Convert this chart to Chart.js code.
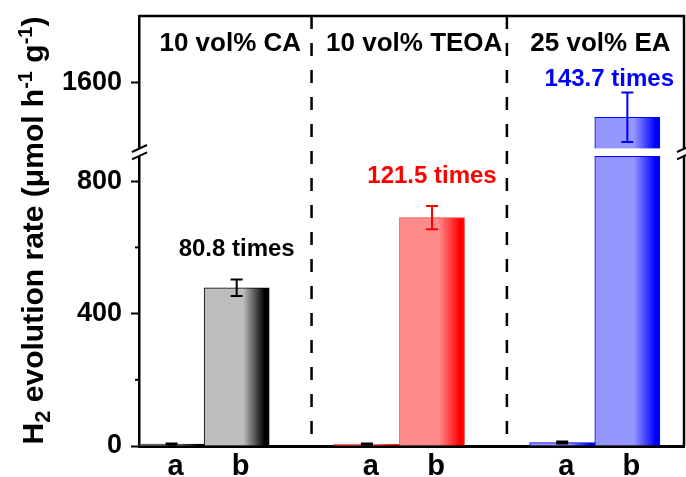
<!DOCTYPE html>
<html>
<head>
<meta charset="utf-8">
<script src="https://cdn.jsdelivr.net/npm/chart.js@4"></script>
<style>
  html, body { margin: 0; padding: 0; background: #fff; }
</style>
</head>
<body>
<canvas id="h2Chart" width="686" height="477"></canvas>
<script>
const groups = ["10 vol% CA", "10 vol% TEOA", "25 vol% EA"];
const samples = ["a", "b"];
const rateA = [5.9, 5.7, 10.4];
const rateB = [478, 690, 1494];
const errA = [2, 2, 3];
const errB = [25, 35, 75];
const folds = ["80.8", "121.5", "143.7"];
const lowTicks = [0, 200, 400, 600, 800];
const highTicks = [1600];

// broken y axis: two stacked scales
const lowRange = [0, 887];
const highRange = [1388, 1800];
const lowCap = 875;      // tall bar stops here below the break
const highStart = 1400;  // and starts again here above it

const groupColors = [
  { light: "#bebebe", dark: "#000000", line: "#000000", text: "#000000" },
  { light: "#ff8c8c", dark: "#ff0000", line: "#ff4040", text: "#ff0000" },
  { light: "#9696ff", dark: "#0000ff", line: "#0000ff", text: "#0000ff" }
];

const FONT = "'Liberation Sans', Arial, sans-serif";
Chart.defaults.font.family = FONT;
Chart.defaults.font.weight = "bold";
Chart.defaults.color = "#000";

function xPos(g, s) {
  return g * 3 + 1 + s;
}

function barFill(ctx, c) {
  const chart = ctx.chart;
  const xs = chart.scales.x;
  if (!xs || !chart.chartArea || !ctx.raw) return c.light;
  const cx = xs.getPixelForValue(ctx.raw.x);
  const half = (xs.getPixelForValue(1) - xs.getPixelForValue(0)) / 2;
  const gr = chart.ctx.createLinearGradient(cx - half, 0, cx + half, 0);
  gr.addColorStop(0, c.light);
  gr.addColorStop(0.6, c.light);
  gr.addColorStop(0.93, c.dark);
  gr.addColorStop(1, c.dark);
  return gr;
}

const datasets = [];
groups.forEach((name, g) => {
  const c = groupColors[g];
  const vals = [rateA[g], rateB[g]];
  const common = {
    backgroundColor: ctx => barFill(ctx, c),
    borderColor: c.line,
    borderWidth: 1,
    grouped: false,
    barPercentage: 1,
    categoryPercentage: 1
  };
  datasets.push({
    ...common,
    label: name,
    yAxisID: "yLow",
    data: vals.map((v, s) => ({ x: xPos(g, s), y: Math.min(v, lowCap) }))
  });
  const tall = vals
    .map((v, s) => ({ x: xPos(g, s), y: [highStart, v] }))
    .filter(p => p.y[1] > highStart);
  if (tall.length) {
    datasets.push({ ...common, label: name + " (upper)", yAxisID: "yHigh", data: tall });
  }
});

const decor = {
  id: "decor",
  beforeDatasetsDraw(chart) {
    const { ctx, chartArea: a, scales } = chart;
    ctx.save();
    ctx.strokeStyle = "#000";
    ctx.lineWidth = 2.5;
    ctx.setLineDash([13, 14]);
    for (let g = 1; g < groups.length; g++) {
      const px = scales.x.getPixelForValue(g * 3 + 0.15);
      ctx.beginPath();
      ctx.moveTo(px, a.top);
      ctx.lineTo(px, a.bottom);
      ctx.stroke();
    }
    ctx.restore();
  },
  afterDatasetsDraw(chart) {
    const { ctx, chartArea: a, scales } = chart;
    const lo = scales.yLow, hi = scales.yHigh;
    const yPix = v => (v > highStart ? hi.getPixelForValue(v) : lo.getPixelForValue(v));
    ctx.save();

    // error bars (black on the small a bars)
    groups.forEach((name, g) => {
      const c = groupColors[g];
      [[rateA[g], errA[g]], [rateB[g], errB[g]]].forEach(([v, e], s) => {
        const cx = scales.x.getPixelForValue(xPos(g, s));
        const t = yPix(v + e), b = yPix(v - e);
        ctx.strokeStyle = s === 0 ? "#000" : c.text;
        ctx.lineWidth = 2;
        ctx.beginPath();
        ctx.moveTo(cx, t); ctx.lineTo(cx, b);
        ctx.moveTo(cx - 6, t); ctx.lineTo(cx + 6, t);
        ctx.moveTo(cx - 6, b); ctx.lineTo(cx + 6, b);
        ctx.stroke();
      });
    });

    // fold labels above bar b
    ctx.font = "bold 24px " + FONT;
    ctx.textAlign = "center";
    ctx.textBaseline = "middle";
    groups.forEach((name, g) => {
      const txt = folds[g] + " times";
      const w = ctx.measureText(txt).width;
      let cx = scales.x.getPixelForValue(xPos(g, 1));
      cx = Math.min(cx, a.right - 10 - w / 2);
      const cy = Math.max(yPix(rateB[g] + errB[g]) - 30, 79);
      ctx.fillStyle = groupColors[g].text;
      ctx.fillText(txt, cx, cy);
    });

    // group titles
    ctx.font = "bold 26px " + FONT;
    ctx.fillStyle = "#000";
    const edges = [a.left];
    for (let g = 1; g < groups.length; g++) edges.push(scales.x.getPixelForValue(g * 3 + 0.15));
    edges.push(a.right);
    groups.forEach((name, g) => {
      ctx.fillText(name, (edges[g] + edges[g + 1]) / 2 + 5, 43.5);
    });
    ctx.restore();
  },
  afterDraw(chart) {
    const { ctx, chartArea: a, scales } = chart;
    ctx.save();
    // top and right frame
    ctx.strokeStyle = "#000";
    ctx.lineWidth = 2.5;
    ctx.beginPath();
    ctx.moveTo(a.left, a.top);
    ctx.lineTo(a.right, a.top);
    ctx.lineTo(a.right, a.bottom);
    ctx.stroke();

    // minor ticks
    ctx.lineWidth = 2;
    lowTicks.filter(v => v % 400 !== 0).forEach(v => {
      const py = scales.yLow.getPixelForValue(v);
      ctx.beginPath();
      ctx.moveTo(a.left - 4, py);
      ctx.lineTo(a.left, py);
      ctx.stroke();
    });

    // axis break marks
    const yb = scales.yLow.top;
    [a.left, a.right].forEach(px => {
      ctx.fillStyle = "#fff";
      ctx.fillRect(px - 3, yb - 3.5, 6, 7);
      ctx.strokeStyle = "#000";
      ctx.lineWidth = 2;
      [-3.7, 3.7].forEach(off => {
        ctx.beginPath();
        ctx.moveTo(px - 7, yb + off + 3.3);
        ctx.lineTo(px + 8, yb + off - 3.7);
        ctx.stroke();
      });
    });

    // y axis title with sub/superscripts
    const parts = [
      { t: "H", size: 30, dy: 0 },
      { t: "2", size: 22, dy: 7 },
      { t: " evolution rate (\u03bcmol h", size: 30, dy: 0 },
      { t: "-1", size: 20, dy: -11 },
      { t: " g", size: 30, dy: 0 },
      { t: "-1", size: 20, dy: -11 },
      { t: ")", size: 30, dy: 0 }
    ];
    let total = 0;
    parts.forEach(p => {
      ctx.font = "bold " + p.size + "px " + FONT;
      p.w = ctx.measureText(p.t).width;
      total += p.w;
    });
    ctx.translate(43, 230.5);
    ctx.rotate(-Math.PI / 2);
    ctx.fillStyle = "#000";
    ctx.textAlign = "left";
    ctx.textBaseline = "alphabetic";
    let x = -total / 2;
    parts.forEach(p => {
      ctx.font = "bold " + p.size + "px " + FONT;
      ctx.fillText(p.t, x, p.dy);
      x += p.w;
    });
    ctx.restore();
  }
};

const yCommon = {
  type: "linear",
  position: "left",
  stack: "rate",
  border: { display: true, color: "#000", width: 2.5 },
  grid: {
    drawOnChartArea: false,
    drawTicks: true,
    tickLength: 8,
    tickWidth: 2,
    tickColor: ctx => (ctx.tick && ctx.tick.value % 400 === 0 ? "#000" : "rgba(0,0,0,0)")
  },
  ticks: {
    padding: 9,
    font: { size: 27, weight: "bold" },
    color: "#000",
    callback: v => (v % 400 === 0 ? v : "")
  },
  afterFit: scale => {
    scale.width = 139;
    scale.paddingTop = 0;
    scale.paddingBottom = 0;
  }
};

new Chart(document.getElementById("h2Chart"), {
  type: "bar",
  data: { datasets },
  plugins: [decor],
  options: {
    responsive: false,
    animation: false,
    layout: { padding: { top: 16, right: 2, bottom: 0, left: 0 } },
    plugins: { legend: { display: false }, tooltip: { enabled: false } },
    scales: {
      x: {
        type: "linear",
        min: 0.5,
        max: 8.87,
        offset: false,
        grid: { display: false, drawTicks: false, offset: false },
        border: { display: true, color: "#000", width: 3 },
        ticks: {
          autoSkip: false,
          maxRotation: 0,
          padding: 4,
          labelOffset: 4,
          font: { size: 29, weight: "bold" },
          color: "#000",
          callback: v => samples[(v - 1) % 3]
        },
        afterBuildTicks: scale => {
          const ticks = [];
          groups.forEach((n, g) => samples.forEach((sm, s) => ticks.push({ value: xPos(g, s) })));
          scale.ticks = ticks;
        },
        afterFit: scale => {
          scale.height = 31;
          scale.paddingLeft = 0;
          scale.paddingRight = 0;
        }
      },
      yLow: {
        ...yCommon,
        min: lowRange[0],
        max: lowRange[1],
        stackWeight: lowRange[1] - lowRange[0],
        afterBuildTicks: scale => { scale.ticks = lowTicks.map(v => ({ value: v })); }
      },
      yHigh: {
        ...yCommon,
        min: highRange[0],
        max: highRange[1],
        stackWeight: highRange[1] - highRange[0],
        afterBuildTicks: scale => { scale.ticks = highTicks.map(v => ({ value: v })); }
      }
    }
  }
});
</script>
</body>
</html>
